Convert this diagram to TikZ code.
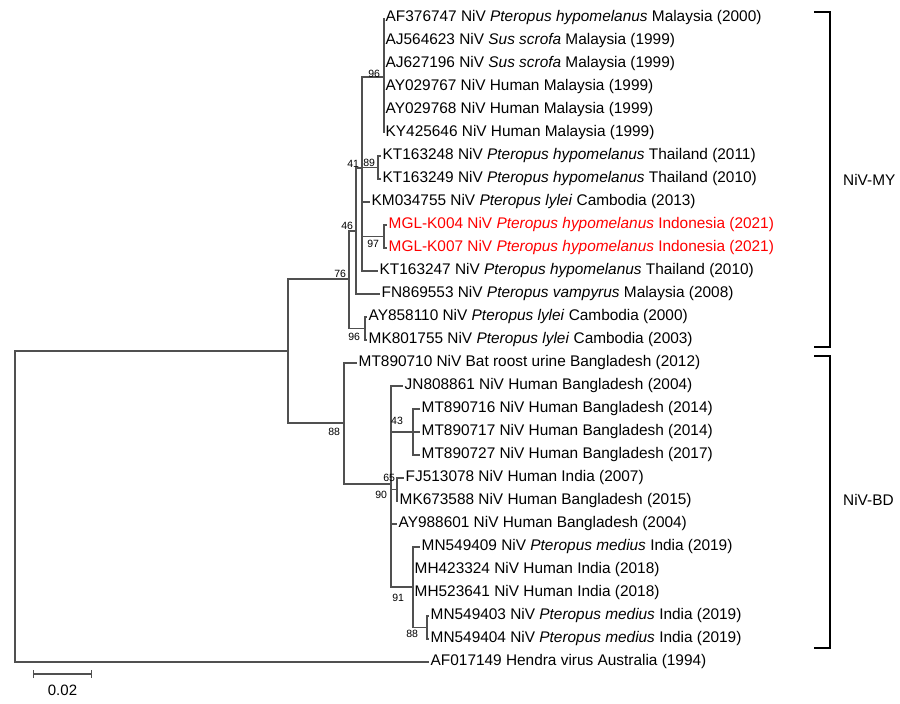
\documentclass[tikz,border=0pt]{standalone}
\usepackage{fontspec}
\setmainfont{Liberation Sans}
\usetikzlibrary{arrows.meta,positioning}
\definecolor{branchc}{HTML}{505050}
\definecolor{newseq}{HTML}{FF0000}
\definecolor{plain}{HTML}{000000}

\begin{document}
\begin{tikzpicture}[x=1pt,y=-1pt,
    branch/.style={draw=branchc,line width=1.1pt},
    leaf/.style={anchor=west,inner sep=1.5pt,font=\fontsize{15.4}{18}\selectfont},
    boot/.style={inner sep=0.8pt,font=\fontsize{10.5}{12}\selectfont},
    clade/.style={inner sep=0pt,font=\fontsize{15.4}{18}\selectfont}]
  \useasboundingbox (0,0) rectangle (900,704);
  % internal nodes of the tree
  \foreach \n/\x/\y in {root/15/506.5,niv/288/351,n76/349/279,n46/356/231,n41/362/168,
      n96a/384/77,n89/378/167.5,n97/384/236.5,n96b/365/328.5,n88/344/423,
      n90/391/484,n43/413/432,n65/397/489.5,n91/413/587,n88b/427/627.5}{
    \coordinate (\n) at (\x,\y);
  }
  \foreach \a/\b in {root/niv,niv/n76,niv/n88,n76/n46,n76/n96b,n46/n41,n41/n96a,
      n41/n89,n41/n97,n88/n90,n90/n43,n90/n65,n90/n91,n91/n88b}{
    \draw[branch] (\a) |- (\b);
  }
  % sequences
  \foreach \n/\p/\x/\y/\c/\t in {
      af376747/n96a/384/18/plain/{AF376747 NiV \textit{Pteropus hypomelanus} Malaysia (2000)},
      aj564623/n96a/384/41/plain/{AJ564623 NiV \textit{Sus scrofa} Malaysia (1999)},
      aj627196/n96a/384/64/plain/{AJ627196 NiV \textit{Sus scrofa} Malaysia (1999)},
      ay029767/n96a/384/87/plain/{AY029767 NiV Human Malaysia (1999)},
      ay029768/n96a/384/110/plain/{AY029768 NiV Human Malaysia (1999)},
      ky425646/n96a/384/133/plain/{KY425646 NiV Human Malaysia (1999)},
      kt163248/n89/381/156/plain/{KT163248 NiV \textit{Pteropus hypomelanus} Thailand (2011)},
      kt163249/n89/381/179/plain/{KT163249 NiV \textit{Pteropus hypomelanus} Thailand (2010)},
      km034755/n41/370/202/plain/{KM034755 NiV \textit{Pteropus lylei} Cambodia (2013)},
      mglk004/n97/387/225/newseq/{MGL-K004 NiV \textit{Pteropus hypomelanus} Indonesia (2021)},
      mglk007/n97/387/248/newseq/{MGL-K007 NiV \textit{Pteropus hypomelanus} Indonesia (2021)},
      kt163247/n41/378/271/plain/{KT163247 NiV \textit{Pteropus hypomelanus} Thailand (2010)},
      fn869553/n46/380/294/plain/{FN869553 NiV \textit{Pteropus vampyrus} Malaysia (2008)},
      ay858110/n96b/367/317/plain/{AY858110 NiV \textit{Pteropus lylei} Cambodia (2000)},
      mk801755/n96b/367/340/plain/{MK801755 NiV \textit{Pteropus lylei} Cambodia (2003)},
      mt890710/n88/357/363/plain/{MT890710 NiV Bat roost urine Bangladesh (2012)},
      jn808861/n90/403/386/plain/{JN808861 NiV Human Bangladesh (2004)},
      mt890716/n43/420/409/plain/{MT890716 NiV Human Bangladesh (2014)},
      mt890717/n43/420/432/plain/{MT890717 NiV Human Bangladesh (2014)},
      mt890727/n43/420/455/plain/{MT890727 NiV Human Bangladesh (2017)},
      fj513078/n65/404/478/plain/{FJ513078 NiV Human India (2007)},
      mk673588/n65/398/501/plain/{MK673588 NiV Human Bangladesh (2015)},
      ay988601/n90/397/524/plain/{AY988601 NiV Human Bangladesh (2004)},
      mn549409/n91/420/547/plain/{MN549409 NiV \textit{Pteropus medius} India (2019)},
      mh423324/n91/413/570/plain/{MH423324 NiV Human India (2018)},
      mh523641/n91/413/593/plain/{MH523641 NiV Human India (2018)},
      mn549403/n88b/429/616/plain/{MN549403 NiV \textit{Pteropus medius} India (2019)},
      mn549404/n88b/429/639/plain/{MN549404 NiV \textit{Pteropus medius} India (2019)},
      af017149/root/429/662/plain/{AF017149 Hendra virus Australia (1994)}}{
    \node[leaf,text=\c] (\n) at (\x,\y) {\t};
    \draw[branch] (\p) |- (\n.west);
  }
  % bootstrap values
  \foreach \n/\a/\dx/\dy/\v in {n96a/south east/-3/-2/96,n89/south east/-2/0/89,
      n41/south east/-2/0/41,n97/north east/-4/-3/97,n46/south east/-2/0/46,
      n76/south east/-2/0/76,n96b/north east/-4/-4/96,n88/north east/-3/-4/88,
      n90/north east/-3/-6/90,n91/north east/-8/-6/91,n88b/north east/-8/-2/88}{
    \node[boot,anchor=\a,xshift=\dx pt,yshift=\dy pt] at (\n) {\v};
  }
  \node[boot] (b43) at (397,421) {43};
  \node[boot,anchor=south east] (b65) at (396,483) {65};
  % scale bar
  \coordinate (sbL) at (33,674);
  \coordinate (sbR) at (92,674);
  \draw[branch,{Bar[width=8pt]}-{Bar[width=8pt]}] (sbL) -- (sbR)
    node[midway,below=10pt,inner sep=0pt,font=\fontsize{15}{18}\selectfont] {0.02};
  % clades
  \coordinate (myT) at (830,12);
  \coordinate (myB) at (830,347);
  \coordinate (bdT) at (830,356);
  \coordinate (bdB) at (830,648);
  \draw[line width=1.3pt] (myT) ++(-16,0) -- (myT) -- (myB) -- ++(-16,0);
  \draw[line width=1.3pt] (bdT) ++(-16,0) -- (bdT) -- (bdB) -- ++(-16,0);
  \coordinate (myM) at (830,180);
  \coordinate (bdM) at (830,500);
  \node[clade,right=13pt of myM] (labMY) {NiV-MY};
  \node[clade,right=13pt of bdM] (labBD) {NiV-BD};
\end{tikzpicture}
\end{document}
